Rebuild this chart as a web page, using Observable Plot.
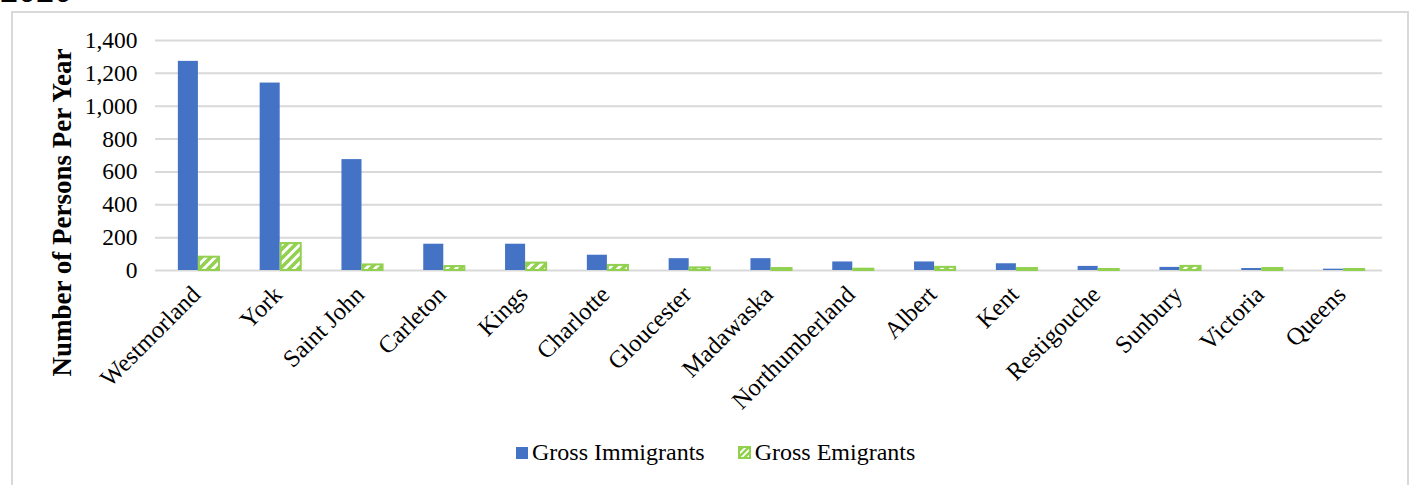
<!DOCTYPE html>
<html>
<head>
<meta charset="utf-8">
<script src="https://cdn.jsdelivr.net/npm/d3@7"></script>
<script src="https://cdn.jsdelivr.net/npm/@observablehq/plot@0.6"></script>
<style>
  html, body { margin: 0; padding: 0; background: #fff; }
  #wrap { position: relative; width: 1415px; height: 485px; overflow: hidden; font-family: "Liberation Serif", "Times New Roman", serif; }
  #title { position: absolute; left: 0px; top: -30px; font-size: 36px; font-weight: bold; color: #000; line-height: 40px; }
  #box { position: absolute; left: 11px; top: 11px; width: 1398px; height: 520px; border: 2px solid #d9d9d9; box-sizing: border-box; }
  #chart { position: absolute; left: 0; top: 0; }
  #legend { position: absolute; left: 516px; top: 439px; font-size: 24px; color: #000; display: flex; align-items: center; white-space: nowrap; }
  .sw { display: inline-block; width: 12px; height: 12px; margin-right: 4px; box-sizing: border-box; }
</style>
</head>
<body>
<div id="wrap">
  <div id="title">2020</div>
  <div id="box"></div>
  <div id="chart"></div>
  <div id="legend">
    <span class="sw" style="background:#4472c4"></span><span>Gross Immigrants</span>
    <span style="display:inline-block;width:33px"></span>
    <svg width="13" height="13" style="margin-right:4px"><defs><pattern id="lgh" patternUnits="userSpaceOnUse" width="6" height="6"><rect width="6" height="6" fill="#fff"/><path d="M-1,7 L7,-1 M-4,4 L4,-4 M2,10 L10,2" stroke="#92d050" stroke-width="2.5"/></pattern></defs><rect x="1" y="1" width="11" height="11" fill="url(#lgh)" stroke="#92d050" stroke-width="2"/></svg><span>Gross Emigrants</span>
  </div>
</div>
<script>
const counties = ["Westmorland","York","Saint John","Carleton","Kings","Charlotte","Gloucester","Madawaska","Northumberland","Albert","Kent","Restigouche","Sunbury","Victoria","Queens"];
const immigrants = [1273,1141,675,160,160,93,72,72,52,52,41,25,19,12,8];
const emigrants = [81,164,34,24,45,31,16,12,8,19,12,6,25,12,6];
const yTicks = [0,200,400,600,800,1000,1200,1400];
const yLabel = "Number of Persons Per Year";

const W = 1415, H = 430, ML = 155, MR = 33, MT = 40, MB = 160;
const bw = (W - ML - MR) / counties.length;
const barW = bw * 0.245;
const shift = 2;
const side = bw / 2 - barW;

const imm = counties.map((c, i) => ({county: c, value: immigrants[i]}));
const emi = counties.map((c, i) => ({county: c, value: emigrants[i]}));

const font = '"Liberation Serif", "Times New Roman", serif';

const plot = Plot.plot({
  width: W, height: H,
  marginLeft: ML, marginRight: MR, marginTop: MT, marginBottom: MB,
  style: {fontFamily: font, fontSize: "23px", color: "#000", background: "transparent"},
  x: {domain: counties, padding: 0, round: false, label: null},
  y: {domain: [0, 1400], label: null},
  marks: [
    Plot.gridY(yTicks, {stroke: "#d9d9d9", strokeOpacity: 1, strokeWidth: 2}),
    Plot.barY(imm, {x: "county", y: "value", fill: "#4472c4", insetLeft: side + shift, insetRight: bw / 2 - shift}),
    Plot.barY(emi, {x: "county", y: "value", fill: "url(#hatch)", stroke: "#92d050", strokeWidth: 2, insetLeft: bw / 2 + shift + 1, insetRight: side - shift - 1}),
    Plot.axisY(yTicks, {tickSize: 0, tickPadding: 18, fontSize: 23.5, tickFormat: d3.format(","), label: null}),
    Plot.axisX({tickRotate: -45, tickSize: 0, tickPadding: 20, fontSize: 24.5, label: null}),
    Plot.text([yLabel], {text: d => d, frameAnchor: "left", textAnchor: "middle", rotate: -90, dx: -93, dy: 57, fontSize: 27, fontWeight: "bold", fill: "#000"})
  ]
});

const ns = "http://www.w3.org/2000/svg";
const defs = document.createElementNS(ns, "defs");
defs.innerHTML = '<pattern id="hatch" patternUnits="userSpaceOnUse" width="9" height="9"><rect width="9" height="9" fill="#fff"/><path d="M-1,10 L10,-1 M-5.5,5.5 L5.5,-5.5 M3.5,14.5 L14.5,3.5" stroke="#92d050" stroke-width="3.5"/></pattern>';
plot.insertBefore(defs, plot.firstChild);
document.getElementById("chart").appendChild(plot);
</script>
</body>
</html>
